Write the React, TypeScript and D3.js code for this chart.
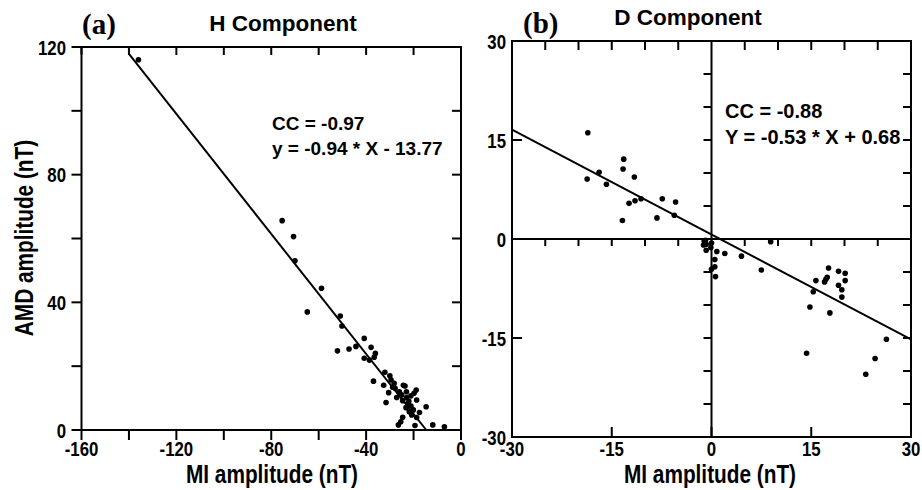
import React from "react";
import * as d3 from "d3";

// ---------- Data ----------
// Panel (a): H component, MI amplitude (x) vs AMD amplitude (y)
const hX = [-136, -75.4, -70.6, -70.0, -58.8, -64.8, -50.9, -50.2, -40.8, -52.1, -47.2, -44.3, -40.8,
  -37.9, -38.6, -36.1, -36.6, -32.1, -36.9, -32.6, -29.5, -28.2, -28.8, -24.3, -23.6, -18.9, -30.5,
  -27.8, -27.1, -25.0, -22.9, -21.1, -18.7, -31.6, -24.6, -22.5, -21.1, -23.2, -20.1, -21.8, -14.7,
  -20.8, -18.7, -24.6, -25.4, -26.4, -19.4, -11.9, -7.0, -26.0, -23.0, -19.8, -17.5, -22.0, -30.0];
const hY = [116, 65.6, 60.6, 53.0, 44.4, 37.0, 35.7, 32.6, 28.7, 24.8, 25.4, 26.2, 22.5,
  25.9, 21.9, 24.0, 22.8, 18.1, 15.3, 14.0, 15.7, 14.6, 13.4, 14.0, 13.8, 12.5, 11.7,
  13.1, 10.2, 11.0, 10.2, 10.7, 9.4, 8.6, 9.2, 8.2, 7.5, 7.0, 6.3, 5.7, 7.3,
  4.7, 3.9, 4.0, 2.6, 1.6, 1.4, 1.6, 1.0, 12.0, 12.0, 11.5, 5.5, 9.0, 17.0];
const hFit = { slope: -0.94, intercept: -13.77, xStart: -140 };
const hCC = "CC = -0.97";
const hEq = "y = -0.94 * X - 13.77";

// Panel (b): D component
const dX = [-18.6, -18.7, -16.9, -15.8, -13.2, -13.3, -11.6, -12.4, -11.5, -10.6, -13.4, -8.2, -7.4, -5.4, -5.6,
  -1.1, -0.8, -1.2, -0.8, 0.0, 0.8, 2.0, 4.5, 8.9, 7.5, 0.5, 0.0, 0.6, -0.9, -0.1, 0.5,
  15.7, 17.0, 17.2, 17.4, 17.6, 19.1, 20.1, 20.1, 19.1, 19.6, 19.6, 15.3, 14.8, 17.8, 26.3, 14.3, 24.6, 23.2];
const dY = [16.1, 9.1, 10.1, 8.3, 12.1, 10.6, 9.4, 5.4, 5.8, 6.1, 2.8, 3.2, 6.1, 5.6, 3.6,
  -0.3, -0.8, -0.9, -1.7, -0.6, -1.9, -2.2, -2.6, -0.4, -4.7, -4.2, -4.6, -5.7, -0.2, -1.3, -3.1,
  -6.3, -6.5, -6.1, -5.8, -4.4, -4.9, -5.2, -6.3, -7.0, -7.7, -8.8, -8.0, -10.3, -11.2, -15.2, -17.3, -18.1, -20.5];
const dFit = { slope: -0.53, intercept: 0.68 };
const dCC = "CC = -0.88";
const dEq = "Y = -0.53 * X + 0.68";

const aXTicks = [-160, -120, -80, -40, 0];
const aYTicks = [0, 40, 80, 120];
const bTicks = [-30, -15, 0, 15, 30];

const xTitle = "MI amplitude (nT)";
const yTitle = "AMD amplitude (nT)";

// ---------- Styling ----------
const SANS = "'Liberation Sans', Arial, Helvetica, sans-serif";
const SERIF = "'Liberation Serif', 'Times New Roman', serif";
const NARROW = 0.8;

function NText({ x, y, size, anchor = "middle", rotate = 0, children }: any) {
  return (
    <text
      transform={`translate(${x},${y}) rotate(${rotate}) scale(${NARROW},1)`}
      textAnchor={anchor}
      fontFamily={SANS}
      fontWeight="bold"
      fontSize={size}
      fill="#000"
    >
      {children}
    </text>
  );
}

export default function App() {
  const W = 922, H = 490;
  const sw = 2;

  // Panel (a) scales
  const ax = d3.scaleLinear().domain([-160, 0]).range([81.5, 461]);
  const ay = d3.scaleLinear().domain([0, 120]).range([430, 47]);
  const aMinor = d3.range(-160, 1, 20);
  const aYMinor = d3.range(0, 121, 20);
  const aLine = d3.line<number>().x((v) => ax(v)).y((v) => ay(hFit.slope * v + hFit.intercept));
  const xEndA = -hFit.intercept / hFit.slope;

  // Panel (b) scales
  const bx = d3.scaleLinear().domain([-30, 30]).range([512, 911]);
  const by = d3.scaleLinear().domain([-30, 30]).range([437, 41]);
  const bMinor = d3.range(-25, 26, 5);
  const bLine = d3.line<number>().x((v) => bx(v)).y((v) => by(dFit.slope * v + dFit.intercept));

  const tickSize = 21;

  return (
    <svg width={W} height={H} style={{ display: "block", position: "absolute", left: 0, top: 0 }}>
      <rect width={W} height={H} fill="#fff" />

      {/* ===== Panel (a) ===== */}
      <text x={82} y={34} fontFamily={SERIF} fontWeight="bold" fontSize={29}>(a)</text>
      <text x={283} y={31} textAnchor="middle" fontFamily={SANS} fontWeight="bold" fontSize={22.5}>H Component</text>

      <g stroke="#000" strokeWidth={sw} fill="none">
        <rect x={ax(-160)} y={ay(120)} width={ax(0) - ax(-160)} height={ay(0) - ay(120)} />
        {aMinor.map((v) => (
          <g key={"ax" + v}>
            <line x1={ax(v)} x2={ax(v)} y1={ay(0)} y2={ay(0) + 10} />
            <line x1={ax(v)} x2={ax(v)} y1={ay(120)} y2={ay(120) + 8} />
          </g>
        ))}
        {aYMinor.map((v) => (
          <g key={"ay" + v}>
            <line x1={ax(-160) - 10} x2={ax(-160)} y1={ay(v)} y2={ay(v)} />
            <line x1={ax(0) - 9} x2={ax(0)} y1={ay(v)} y2={ay(v)} />
          </g>
        ))}
      </g>
      {aXTicks.map((v) => (
        <NText key={"axl" + v} x={ax(v)} y={456} size={tickSize}>{v}</NText>
      ))}
      {aYTicks.map((v) => (
        <NText key={"ayl" + v} x={66} y={ay(v) + 7.5} size={tickSize} anchor="end">{v}</NText>
      ))}
      <NText x={272} y={483} size={26}>{xTitle}</NText>
      <NText x={33} y={238} size={26} rotate={-90}>{yTitle}</NText>

      <path d={aLine([hFit.xStart, xEndA]) || ""} stroke="#000" strokeWidth={2} fill="none" />
      {hX.map((v, i) => (
        <circle key={"hp" + i} cx={ax(v)} cy={ay(hY[i])} r={2.8} fill="#000" />
      ))}
      <text x={272} y={130} fontFamily={SANS} fontWeight="bold" fontSize={19}>{hCC}</text>
      <text x={272} y={155} fontFamily={SANS} fontWeight="bold" fontSize={19}>{hEq}</text>

      {/* ===== Panel (b) ===== */}
      <text x={523} y={33} fontFamily={SERIF} fontWeight="bold" fontSize={29}>(b)</text>
      <text x={688} y={25} textAnchor="middle" fontFamily={SANS} fontWeight="bold" fontSize={22.5}>D Component</text>

      <g stroke="#000" strokeWidth={sw} fill="none">
        <rect x={bx(-30)} y={by(30)} width={bx(30) - bx(-30)} height={by(-30) - by(30)} />
        <line x1={bx(-30)} x2={bx(30)} y1={by(0)} y2={by(0)} />
        <line x1={bx(0)} x2={bx(0)} y1={by(30)} y2={by(-30)} />
        {bMinor.filter((v) => v !== 0).map((v) => (
          <g key={"bm" + v}>
            <line x1={bx(v)} x2={bx(v)} y1={by(30)} y2={by(30) + 9} />
            <line x1={bx(v)} x2={bx(v)} y1={by(0)} y2={by(0) + 7} />
            <line x1={bx(30) - 8} x2={bx(30)} y1={by(v)} y2={by(v)} />
            <line x1={bx(0) - 8} x2={bx(0)} y1={by(v)} y2={by(v)} />
          </g>
        ))}
        {bTicks.map((v) => (
          <g key={"bt" + v}>
            <line x1={bx(v)} x2={bx(v)} y1={by(-30)} y2={by(-30) - 10} />
            <line x1={bx(-30)} x2={bx(-30) + 10} y1={by(v)} y2={by(v)} />
          </g>
        ))}
      </g>
      {bTicks.map((v) => (
        <NText key={"bxl" + v} x={bx(v)} y={456} size={tickSize}>{v}</NText>
      ))}
      {bTicks.map((v) => (
        <NText key={"byl" + v} x={506} y={by(v) + 7.5} size={tickSize} anchor="end">{v}</NText>
      ))}
      <NText x={710} y={483} size={26}>{xTitle}</NText>

      <path d={bLine([-30, 30]) || ""} stroke="#000" strokeWidth={2} fill="none" />
      {dX.map((v, i) => (
        <circle key={"dp" + i} cx={bx(v)} cy={by(dY[i])} r={2.8} fill="#000" />
      ))}
      <text x={725} y={118} fontFamily={SANS} fontWeight="bold" fontSize={20}>{dCC}</text>
      <text x={725} y={144} fontFamily={SANS} fontWeight="bold" fontSize={20}>{dEq}</text>
    </svg>
  );
}
